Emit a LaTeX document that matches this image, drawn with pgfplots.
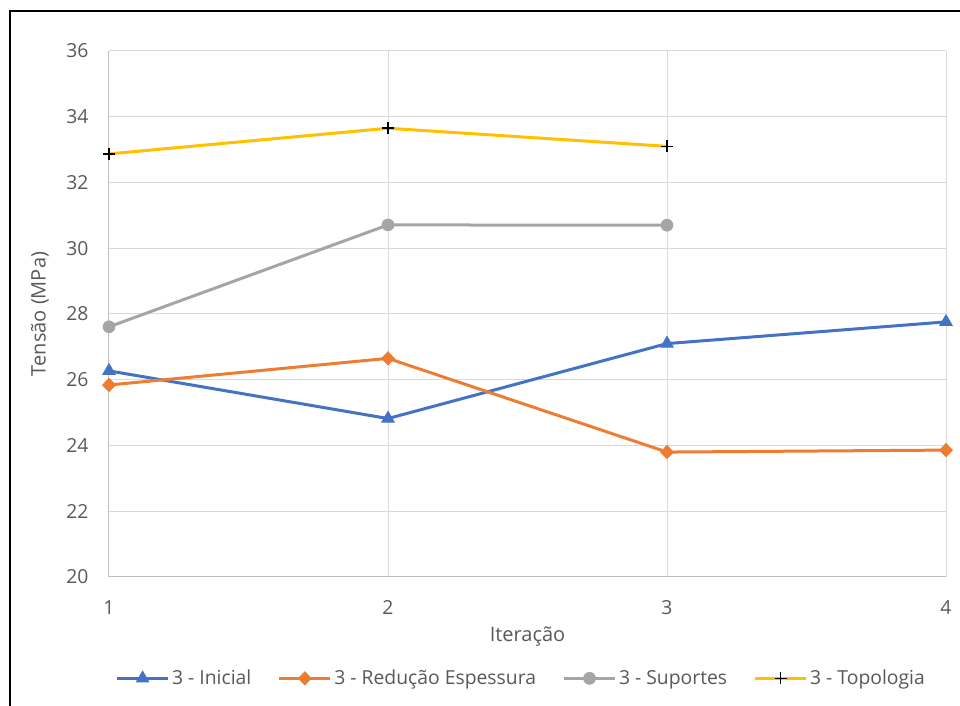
\documentclass[border=0pt]{standalone}
\usepackage{pgfplots}
\pgfplotsset{compat=1.18}
\usepackage{fontspec}
\setmainfont{Open Sans}
\definecolor{cblue}{HTML}{4472C4}
\definecolor{corange}{HTML}{ED7D31}
\definecolor{cgrey}{HTML}{A5A5A5}
\definecolor{cyellow}{HTML}{FFC000}
\definecolor{ctext}{HTML}{595959}
\definecolor{cgrid}{HTML}{D9D9D9}
\definecolor{caxis}{HTML}{BFBFBF}
\begin{document}
\begin{tikzpicture}[x=0.75pt,y=0.75pt]
\path[use as bounding box] (-109,-129) rectangle (851,577);
\draw[black,line width=1.5pt] (-99,-129) -- (-99,566) -- (851,566);
\begin{axis}[
  at={(0,0)}, anchor=origin,
  scale only axis, width=627.75pt, height=394.5pt,
  xmin=1, xmax=4, ymin=20, ymax=36,
  xtick={1,2,3,4}, ytick={20,22,...,36},
  grid=major, major grid style={cgrid,line width=0.75pt},
  axis x line*=bottom, axis y line*=left,
  axis line style={caxis,line width=0.75pt},
  x axis line style={-}, y axis line style={-},
  tick style={draw=none},
  tick label style={font=\fontsize{14.5}{16}\selectfont,text=ctext},
  /pgf/number format/assume math mode=true,
  xticklabel style={yshift=-13pt},
  yticklabel style={xshift=-11pt},
  xlabel={Iteração}, ylabel={Tensão (MPa)},
  label style={font=\fontsize{15}{17}\selectfont,text=ctext},
  xlabel style={at={(axis description cs:0.5,0)},anchor=center,yshift=-44.5pt},
  ylabel style={at={(axis description cs:0,0.5)},rotate=0,anchor=center,yshift=51.75pt},
  legend style={at={(axis description cs:0.493,0)},anchor=center,yshift=-76pt,draw=none,
    font=\fontsize{14.5}{16}\selectfont,text=ctext,legend columns=4,
    /tikz/every even column/.append style={column sep=18pt}},
  legend image code/.code={\draw[mark repeat=2,mark phase=2] plot coordinates {(0pt,0pt)(19pt,0pt)(38pt,0pt)};},
  line width=2.25pt,
]
\addplot[cblue,mark=triangle*,mark size=5.5pt,mark options={line width=0.5pt}] coordinates {(1,26.27)(2,24.82)(3,27.10)(4,27.76)};
\addlegendentry{3 - Inicial}
\addplot[corange,mark=diamond*,mark size=5pt,mark options={line width=0.5pt,xscale=1.3}] coordinates {(1,25.84)(2,26.65)(3,23.80)(4,23.86)};
\addlegendentry{3 - Redução Espessura}
\addplot[cgrey,mark=*,mark size=4.5pt,mark options={line width=0.5pt}] coordinates {(1,27.61)(2,30.71)(3,30.70)};
\addlegendentry{3 - Suportes}
\addplot[cyellow,mark=+,mark size=4.5pt,mark options={black,line width=1.2pt}] coordinates {(1,32.87)(2,33.65)(3,33.10)};
\addlegendentry{3 - Topologia}
\end{axis}
\end{tikzpicture}
\end{document}
